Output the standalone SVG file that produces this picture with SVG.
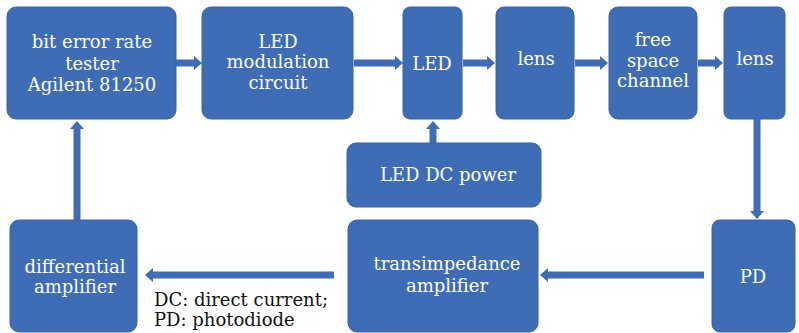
<svg xmlns="http://www.w3.org/2000/svg" width="799" height="333" viewBox="0 0 799 333">
<defs>
<style>
.box{fill:#3E6DB5;stroke:#3762A6;stroke-width:1}
.lbl{fill:#ffffff;font-family:"DejaVu Serif","Liberation Serif",serif;font-size:18px;text-anchor:middle}
.note{fill:#111111;font-family:"DejaVu Serif","Liberation Serif",serif;font-size:18px}
.conn{stroke:#3E6DB5;stroke-width:7;fill:none;marker-end:url(#ah)}
</style>
<marker id="ah" markerUnits="userSpaceOnUse" markerWidth="8" markerHeight="14" refX="0" refY="7" orient="auto">
<path d="M0,0 L8,7 L0,14 z" fill="#3E6DB5"/>
</marker>
</defs>
<rect width="799" height="333" fill="#ffffff"/>
<g id="connectors">
<line class="conn" x1="176" y1="63" x2="194" y2="63"/>
<line class="conn" x1="354" y1="63" x2="395" y2="63"/>
<line class="conn" x1="463" y1="63" x2="487" y2="63"/>
<line class="conn" x1="575" y1="63" x2="600" y2="63"/>
<line class="conn" x1="698" y1="63" x2="715" y2="63"/>
<line class="conn" x1="757" y1="119" x2="757" y2="211"/>
<line class="conn" x1="704" y1="275" x2="548" y2="275"/>
<line class="conn" x1="334" y1="275" x2="153" y2="275"/>
<line class="conn" x1="77" y1="220" x2="77" y2="129"/>
<line class="conn" x1="433" y1="143" x2="433" y2="129"/>
</g>
<g id="bert">
<rect class="box" x="7" y="7" width="169" height="112" rx="9"/>
<text class="lbl" x="92" y="48">bit error rate</text>
<text class="lbl" x="92" y="70">tester</text>
<text class="lbl" x="92" y="91">Agilent 81250</text>
</g>
<g id="modulation">
<rect class="box" x="202" y="7" width="151" height="112" rx="9"/>
<text class="lbl" x="278" y="48">LED</text>
<text class="lbl" x="278" y="68">modulation</text>
<text class="lbl" x="278" y="89">circuit</text>
</g>
<g id="led">
<rect class="box" x="403" y="7" width="59" height="112" rx="7"/>
<text class="lbl" x="432" y="70">LED</text>
</g>
<g id="lens1">
<rect class="box" x="496" y="7" width="78" height="112" rx="8"/>
<text class="lbl" x="536" y="65">lens</text>
</g>
<g id="freespace">
<rect class="box" x="609" y="7" width="88" height="112" rx="9"/>
<text class="lbl" x="653" y="46">free</text>
<text class="lbl" x="653" y="67">space</text>
<text class="lbl" x="653" y="87">channel</text>
</g>
<g id="lens2">
<rect class="box" x="724" y="7" width="61" height="112" rx="7"/>
<text class="lbl" x="755" y="65">lens</text>
</g>
<g id="dcpower">
<rect class="box" x="347" y="143" width="194" height="64" rx="9"/>
<text class="lbl" x="448" y="181">LED DC power</text>
</g>
<g id="pd">
<rect class="box" x="712" y="220" width="83" height="112" rx="8"/>
<text class="lbl" x="753" y="283">PD</text>
</g>
<g id="tia">
<rect class="box" x="348" y="220" width="190" height="112" rx="9"/>
<text class="lbl" x="447" y="270">transimpedance</text>
<text class="lbl" x="447" y="292">amplifier</text>
</g>
<g id="diffamp">
<rect class="box" x="10" y="220" width="127" height="112" rx="9"/>
<text class="lbl" x="75" y="273">differential</text>
<text class="lbl" x="75" y="293">amplifier</text>
</g>
<g id="legend">
<text class="note" x="154" y="306">DC: direct current;</text>
<text class="note" x="154" y="326">PD: photodiode</text>
</g>
</svg>
